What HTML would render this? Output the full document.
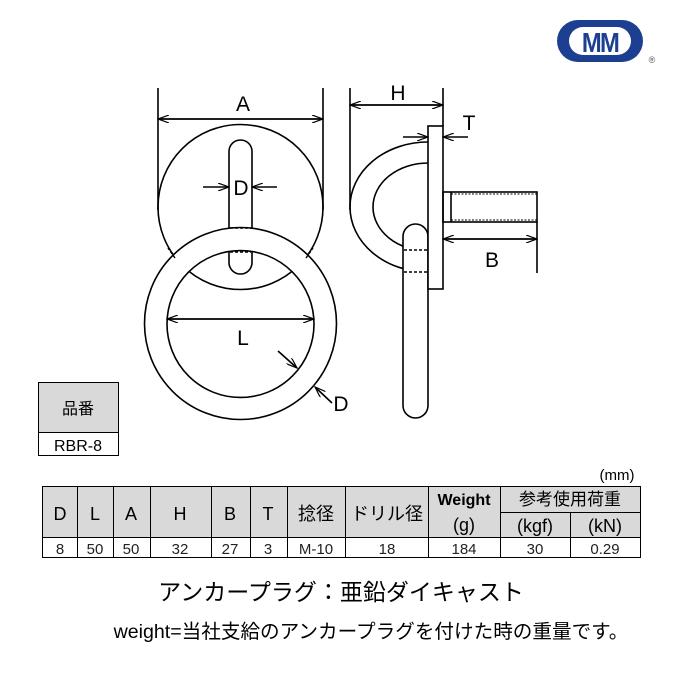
<!DOCTYPE html>
<html><head><meta charset="utf-8"><style>
body{margin:0;background:#fff;width:680px;height:680px;overflow:hidden;font-family:"Liberation Sans","Noto Sans CJK JP",sans-serif}
svg{position:absolute;left:0;top:0}
</style></head><body>
<svg width="680" height="680" viewBox="0 0 680 680" font-family="Liberation Sans, Noto Sans CJK JP, sans-serif">
<defs><marker id="ar" markerWidth="12" markerHeight="8" refX="11" refY="4" orient="auto" markerUnits="userSpaceOnUse"><path d="M0,0 L11,4 L0,8" fill="none" stroke="#000" stroke-width="1.2"/></marker></defs>
<g fill="none" stroke="#000" stroke-width="1.6">
<!-- logo -->
<rect x="557" y="20" width="86" height="42" rx="21" fill="#1c3f91" stroke="none"/>
<rect x="569" y="27" width="62" height="28" rx="14" fill="#fff" stroke="none"/>
<!-- front view -->
<circle cx="240.5" cy="207" r="82.5"/>
<rect x="229" y="140" width="23" height="134" rx="11.5" fill="#fff"/>
<path d="M144.5,323.5 A96,96 0 0 1 336.5,323.5 A96,96 0 0 1 144.5,323.5Z M167,324 A73.5,73.5 0 0 0 314,324 A73.5,73.5 0 0 0 167,324Z" fill="#fff" fill-rule="evenodd"/>
<path d="M230,228 h21 M230,252 h21 M175,258 l-7,-10 M306,258 l7,-10" stroke-dasharray="3,2" stroke-width="1.4"/>
<path d="M158,88 V210 M323,88 V210" />
<path d="M158,119 H323" marker-end="url(#ar)"/><path d="M323,119 H158" marker-end="url(#ar)"/>
<path d="M203,187 H229" marker-end="url(#ar)"/><path d="M277,187 H252" marker-end="url(#ar)"/>
<path d="M167,319 H314" marker-end="url(#ar)"/><path d="M314,319 H167" marker-end="url(#ar)"/>
<path d="M278,351 L297,368" marker-end="url(#ar)"/>
<path d="M332,403 L315,387" marker-end="url(#ar)"/>
<!-- side view -->
<path d="M428,142 A78,65 0 0 0 428,272" />
<path d="M428,163 A55,44 0 0 0 428,251" />
<rect x="403" y="224" width="25" height="194" rx="12.5" fill="#fff"/>
<path d="M404,250 h24 M404,272 h24" stroke-dasharray="3,2" stroke-width="1.4"/>
<rect x="428" y="126" width="15" height="163" fill="#fff"/>
<rect x="443" y="192" width="94" height="30"/>
<path d="M451,192 V222"/>
<path d="M451,194 H537 M451,220 H537" stroke-dasharray="2,1.5" stroke-width="1"/>
<path d="M350,88 V210 M443,88 V126 M537,222 V273"/>
<path d="M350,105 H443" marker-end="url(#ar)"/><path d="M443,105 H350" marker-end="url(#ar)"/>
<path d="M403,137 H428" marker-end="url(#ar)"/><path d="M468,137 H443" marker-end="url(#ar)"/>
<path d="M443,239 H537" marker-end="url(#ar)"/><path d="M537,239 H443" marker-end="url(#ar)"/>
</g>
<text x="600" y="52" font-size="28" font-weight="bold" fill="#1c3f91" text-anchor="middle" transform="translate(600,0) scale(0.85,1) translate(-600,0)" letter-spacing="-2">MM</text>
<text x="652" y="63" font-size="9" fill="#555" text-anchor="middle">®</text>
<g font-size="21" text-anchor="middle" fill="#000">
<text x="243" y="111">A</text><text x="241" y="195">D</text><text x="243" y="345">L</text><text x="341" y="411">D</text>
<text x="398" y="100">H</text><text x="469" y="130">T</text><text x="492" y="267">B</text>
</g>
<!-- small table -->
<g stroke="#000" stroke-width="1">
<rect x="38.5" y="382.5" width="80" height="50" fill="#d9d9d9"/>
<rect x="38.5" y="432.5" width="80" height="23" fill="#fff"/>
</g>
<text x="78" y="414" font-size="16" text-anchor="middle">品番</text>
<text x="78" y="451" font-size="16" text-anchor="middle">RBR-8</text>
<!-- main table -->
<text x="617" y="480" font-size="15" text-anchor="middle">(mm)</text>
<g stroke="#000" stroke-width="1">
<rect x="42.5" y="486.5" width="598" height="51" fill="#d9d9d9"/>
<rect x="42.5" y="537.5" width="598" height="20" fill="#fff"/>
<path d="M77.5,486V557 M113.5,486V557 M150.5,486V557 M211.5,486V557 M250.5,486V557 M287.5,486V557 M345.5,486V557 M428.5,486V557 M500.5,486V557 M570.5,512V557 M500,512.5H641"/>
</g>
<g font-size="18" text-anchor="middle">
<text x="60" y="520">D</text><text x="95" y="520">L</text><text x="131" y="520">A</text><text x="180" y="520">H</text><text x="230" y="520">B</text><text x="268" y="520">T</text>
<text x="316" y="520">捻径</text><text x="387" y="520">ドリル径</text>
<text x="464" y="505" font-size="16" font-weight="bold">Weight</text><text x="464" y="531">(g)</text>
<text x="570" y="505" font-size="17">参考使用荷重</text><text x="535" y="532">(kgf)</text><text x="605" y="532">(kN)</text>
</g>
<g font-size="15" text-anchor="middle" fill="#222">
<text x="60" y="554">8</text><text x="95" y="554">50</text><text x="131" y="554">50</text><text x="180" y="554">32</text><text x="230" y="554">27</text><text x="268" y="554">3</text>
<text x="316" y="554">M-10</text><text x="387" y="554">18</text><text x="464" y="554">184</text><text x="535" y="554">30</text><text x="605" y="554">0.29</text>
</g>
<text x="341" y="600" font-size="23" text-anchor="middle">アンカープラグ：亜鉛ダイキャスト</text>
<text x="371" y="638" font-size="19.6" text-anchor="middle">weight=当社支給のアンカープラグを付けた時の重量です。</text>
</svg>
</body></html>
